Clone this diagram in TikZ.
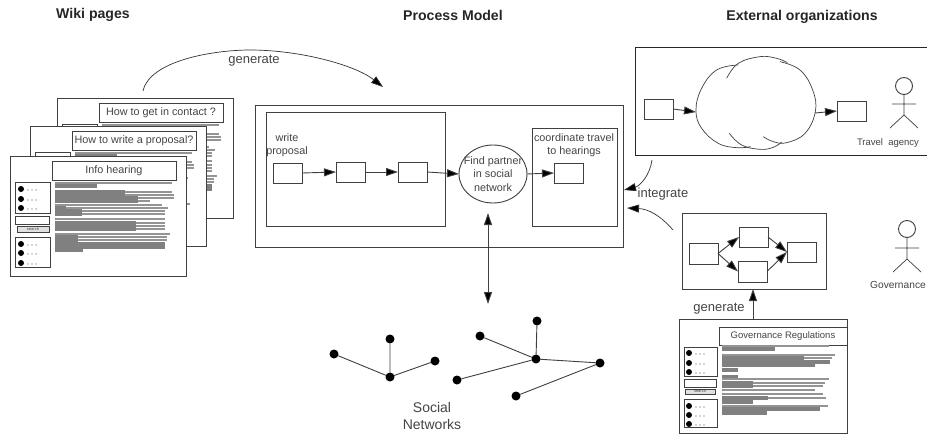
\documentclass[tikz,border=0pt]{standalone}
\usepackage{fontspec}
\setmainfont{Liberation Sans}
\usetikzlibrary{arrows.meta,shapes.geometric,calc}
\definecolor{ink}{gray}{0.25}
\definecolor{txt}{gray}{0.27}
\tikzset{
  every node/.style={text=txt,inner sep=0pt,outer sep=0pt},
  every path/.style={line width=0.9pt},
  box/.style={draw=ink,fill=white,rectangle,anchor=north west},
  flow/.style={draw=ink,-{Triangle[length=12pt,width=8pt,fill=black]}},
  curved/.style={draw=black!80,line width=0.7pt,-{Triangle[length=12pt,width=8pt,fill=black]}},
  plain/.style={draw=ink},
  dotn/.style={circle,fill=black,minimum size=9pt},
  head/.style={font=\bfseries\fontsize{14.1}{16}\selectfont,text=black!85},
  lab/.style={font=\fontsize{13}{15}\selectfont},
  small/.style={font=\fontsize{10.8}{13.5}\selectfont,align=center},
  tiny/.style={font=\fontsize{4}{4}\selectfont},
  thinrow/.style={fill=black!42},
  thickrow/.style={fill=black!50},
  wikipage/.pic={
    \node[box,minimum width=176pt,minimum height=120pt] (-page) at (0,0) {};
    \node[box,minimum width=124pt,minimum height=19pt,font=\fontsize{10.8}{12}\selectfont] (-title) at (42,5) {#1};
    \node[box,minimum width=35pt,minimum height=31pt] (-s1) at (5,26) {};
    \node[box,minimum width=34pt,minimum height=8pt] (-sb) at (5,60) {};
    \node[box,minimum width=32pt,minimum height=6pt,fill=black!12,tiny] (-bt) at (7,70) {search};
    \node[box,minimum width=35pt,minimum height=30pt] (-s2) at (5,81) {};
    \foreach \y in {33,43,52,88,97,107}{
      \fill[black] (11,\y) circle (3pt);
      \foreach \x in {18,22,26}{\fill[black!70] (\x,\y+1) circle (0.6pt);}
    }
    \foreach \y/\a/\b in {27/45/162,30/87/87,36/115/162,39/115/164,42/128/164,45/128/140,49/45/152,52/56/158,55/72/155,58/72/155,63/45/155,67/126/155,70/126/155,73/126/155,78/45/160,81/68/157,84/68/157,88/155/155,91/155/155,94/73/73}{
      \fill[thinrow] (45,\y-0.9) rectangle (\b,\y+0.9);
      \fill[thickrow] (45,\y-1.6) rectangle (\a,\y+1.6);
    }
  }
}
\begin{document}
\begin{tikzpicture}[x=1pt,y=-1pt]
\useasboundingbox (0,0) rectangle (927,434);
\fill[white] (0,0) rectangle (927,434);

% headings
\node[head] (hwiki) at (93,15) {Wiki pages};
\node[head] (hproc) at (453,15) {Process Model};
\node[head] (hext) at (802,17) {External organizations};

% wiki pages
\pic (pc) at (57,98) {wikipage={How to get in contact ?}};
\pic (pb) at (30,126) {wikipage={How to write a proposal?}};
\pic (pa) at (10,156) {wikipage={Info hearing}};

% process model
\node[box,minimum width=368pt,minimum height=142pt] (proc) at (255,105) {};
\node[box,minimum width=179pt,minimum height=114pt] (wbox) at (266,112) {};
\node[box,minimum width=85pt,minimum height=98pt] (cbox) at (532,128) {};
\node[small,anchor=center] (wlab) at (287,145) {write\\proposal};
\node[small,anchor=center] (clab) at (574,145) {coordinate travel\\to hearings};
\node[box,minimum width=29pt,minimum height=20pt] (b1) at (273,163) {};
\node[box,minimum width=29pt,minimum height=20pt] (b2) at (336,162) {};
\node[box,minimum width=29pt,minimum height=20pt] (b3) at (398,162) {};
\node[box,minimum width=29pt,minimum height=20pt] (b4) at (554,163) {};
\node[ellipse,draw=ink,fill=white,minimum width=68pt,minimum height=58pt] (find) at (493,174) {};
\node[small] (findlab) at (493,174) {Find partner\\in social\\network};
\draw[flow] (b1.east) -- (b2.west);
\draw[flow] (b2.east) -- (b3.west);
\draw[flow] (b3.east) -- (find.west);
\draw[flow] (find.east) -- (b4.west);

% generate curve
\coordinate (gs) at (143,91);
\coordinate (ge) at (383,87);
\draw[curved] (gs) .. controls (150,60) and (215,50) .. (250,50) .. controls (300,50) and (355,65) .. (ge);
\node[lab] (glab) at (254,61) {generate};

% external organisations (box runs off the right edge)
\coordinate (e1) at (927,47);
\coordinate (e2) at (635,47);
\coordinate (e3) at (635,155);
\coordinate (e4) at (927,155);
\draw[plain,draw=black!85] (e1) -- (e2) -- (e3) -- (e4);
\node[box,minimum width=29pt,minimum height=20pt] (ea) at (644,99) {};
\node[box,minimum width=29pt,minimum height=20pt] (eb) at (837,101) {};
\begin{scope}[shift={(630,40)},x=0.3333pt,y=-0.3333pt]
  \draw[plain,line width=0.7pt] plot[smooth,tension=0.7] coordinates {(325,75) (260,90) (215,145) (198,210) (215,265) (265,310) (320,323) (362,320)};
  \draw[plain,line width=0.7pt] plot[smooth,tension=0.7] coordinates {(290,115) (325,70) (390,50) (440,55) (472,68)};
  \draw[plain,line width=0.7pt] plot[smooth,tension=0.7] coordinates {(450,65) (510,90) (548,150) (556,215) (525,280) (470,308) (430,305) (400,290)};
  \draw[plain,line width=0.7pt] plot[smooth,tension=0.7] coordinates {(298,280) (335,315) (390,328) (430,322) (455,306)};
\end{scope}
\coordinate (cw) at (696,112);
\coordinate (ce) at (815,113);
\draw[flow] (ea.east) -- (cw);
\draw[flow] (ce) -- (eb.west);
% travel agency actor
\node[circle,draw=ink,minimum size=17pt] (act1) at (904,86) {};
\draw[plain,line width=0.7pt] (act1.south) -- (904,115) (892,104) -- (916,104) (890,128) -- (904,115) -- (918,128);
\node[anchor=center,font=\fontsize{9.5}{11}\selectfont] (tlab) at (888,143) {Travel\ \ agency};

% integrate arrows
\coordinate (i1s) at (652,160);
\coordinate (i1e) at (624,190);
\coordinate (i2s) at (673,230);
\coordinate (i2e) at (627,208);
\draw[curved] (i1s) .. controls (650,175) and (640,186) .. (i1e);
\draw[curved] (i2s) .. controls (660,215) and (648,209) .. (i2e);
\node[lab] (ilab) at (663,194) {integrate};

% governance model
\node[box,minimum width=144pt,minimum height=76pt] (gov) at (682,213) {};
\node[box,minimum width=29pt,minimum height=21pt] (ga) at (689,243) {};
\node[box,minimum width=29pt,minimum height=20pt] (gb) at (739,227) {};
\node[box,minimum width=29pt,minimum height=21pt] (gc) at (738,261) {};
\node[box,minimum width=29pt,minimum height=20pt] (gd) at (787,242) {};
\draw[flow] (ga.east) -- (gb.west);
\draw[flow] (ga.east) -- (gc.west);
\draw[flow] (gb.east) -- (gd.west);
\draw[flow] (gc.east) -- (gd.west);

% governance actor
\node[circle,draw=ink,minimum size=17pt] (act2) at (907,229) {};
\draw[plain,line width=0.7pt] (act2.south) -- (907,259) (895,248) -- (919,248) (893,272) -- (907,259) -- (921,272);
\node[anchor=center,font=\fontsize{10.2}{12}\selectfont] (golab) at (898,285) {Governance};

% governance regulations page
\node[box,minimum width=168pt,minimum height=114pt] (reg) at (679,319) {};
\node[box,minimum width=128pt,minimum height=18pt,font=\fontsize{9.5}{11}\selectfont] (regt) at (719,327) {Governance Regulations};
\node[box,minimum width=33pt,minimum height=29pt] (rs1) at (684,347) {};
\node[box,minimum width=32pt,minimum height=8pt] (rsb) at (684,379) {};
\node[box,minimum width=30pt,minimum height=5pt,fill=black!12,tiny] (rbt) at (685,389) {search};
\node[box,minimum width=33pt,minimum height=28pt] (rs2) at (684,399) {};
\foreach \y in {353,363,372,406,415,424}{
  \fill[black] (689,\y) circle (3pt);
  \foreach \x in {696,700,704}{\fill[black!70] (\x,\y+1) circle (0.6pt);}
}
\foreach \y/\a/\b in {346/722/829,349/775/775,355/722/835,358/804/832,362/830/830,365/815/815,370/738/738,377/738/738,379/722/829,383/753/825,386/753/823,390/722/815,394/722/823,398/768/826,402/753/753,406/722/828,409/820/820,413/767/767}{
  \fill[thinrow] (722,\y-0.9) rectangle (\b,\y+0.9);
  \fill[thickrow] (722,\y-1.6) rectangle (\a,\y+1.6);
}
\coordinate (regtop) at (753,319);
\coordinate (govbot) at (753,289);
\draw[flow] (regtop) -- (govbot);
\node[lab] (glab2) at (719,309) {generate};

% social networks link
\coordinate (lt) at (488,213);
\coordinate (lb) at (488,304);
\draw[draw=ink,{Triangle[length=12pt,width=8pt,fill=black]}-{Triangle[length=12pt,width=8pt,fill=black]}] (lt) -- (lb);

% networks
\node[dotn] (n1) at (334,354) {};
\node[dotn] (n2) at (390,339) {};
\node[dotn] (n3) at (435,361) {};
\node[dotn] (n4) at (390,377) {};
\node[dotn] (m1) at (480,336) {};
\node[dotn] (m2) at (537,321) {};
\node[dotn] (m3) at (536,359) {};
\node[dotn] (m4) at (600,363) {};
\node[dotn] (m5) at (457,380) {};
\node[dotn] (m6) at (516,396) {};
\draw[plain] (n1) -- (n4) (n2) -- (n4) (n3) -- (n4);
\draw[plain] (m1) -- (m3) (m2) -- (m3) (m3) -- (m4) (m5) -- (m3) (m6) -- (m4);
\node[align=center,font=\fontsize{14}{17}\selectfont] (slab) at (432,415.5) {Social\\Networks};
\end{tikzpicture}
\end{document}
